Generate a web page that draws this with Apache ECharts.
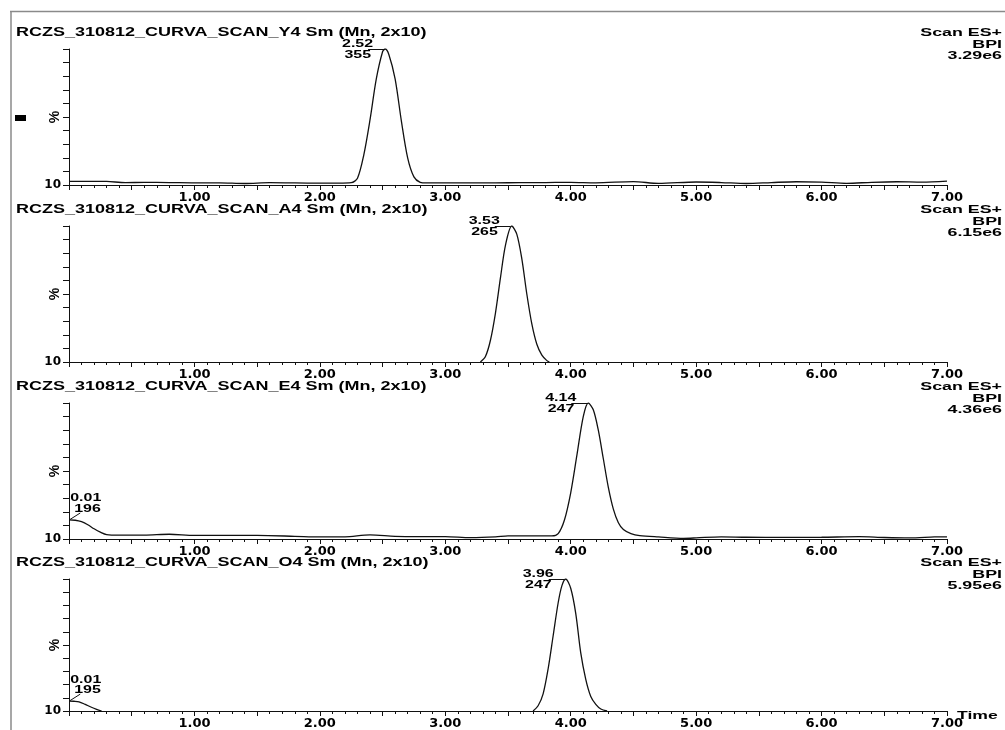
<!DOCTYPE html>
<html><head><meta charset="utf-8">
<script src="https://cdn.jsdelivr.net/npm/echarts@6/dist/echarts.min.js"></script>
<style>html,body{margin:0;padding:0;background:#fff}#c{width:1005px;height:730px}</style>
</head><body><div id="c"></div>
<script>
// ---------- data ----------
const panelTitles = [
  'RCZS_310812_CURVA_SCAN_Y4 Sm (Mn, 2x10)',
  'RCZS_310812_CURVA_SCAN_A4 Sm (Mn, 2x10)',
  'RCZS_310812_CURVA_SCAN_E4 Sm (Mn, 2x10)',
  'RCZS_310812_CURVA_SCAN_O4 Sm (Mn, 2x10)'
];
const scanModes = ['Scan ES+', 'Scan ES+', 'Scan ES+', 'Scan ES+'];
const traceTypes = ['BPI', 'BPI', 'BPI', 'BPI'];
const fullScales = ['3.29e6', '6.15e6', '4.36e6', '5.95e6'];
const peakTimes = [2.52, 3.53, 4.14, 3.96];
const peakMasses = ['355', '265', '247', '247'];
const peakPct = [100, 100, 100, 100];
const startTimes = [null, null, 0.01, 0.01];
const startMasses = [null, null, '196', '195'];
const startPct = [null, null, 14, 7.5];
const xTickValues = [1, 2, 3, 4, 5, 6, 7];
const yBaseLabel = '10';
const yName = '%';
const xName = 'Time';

const y4Time = [0.00,0.15,0.30,0.45,0.60,0.80,1.00,1.20,1.40,1.60,1.80,2.00,2.15,2.25,2.30,2.35,2.40,2.45,2.50,2.52,2.55,2.60,2.65,2.70,2.75,2.80,2.85,3.00,3.20,3.40,3.60,3.80,4.00,4.20,4.50,4.70,5.00,5.20,5.40,5.60,5.80,6.00,6.20,6.40,6.60,6.80,7.00];
const y4Pct  = [2.6,2.7,2.6,1.8,1.9,1.8,1.6,1.6,1.1,1.7,1.5,1.4,1.4,1.7,5,22,48,78,98,100,96,78,47,20,6,2,1.5,1.6,1.5,1.6,1.7,1.8,2.0,1.6,2.5,1.2,2.2,1.8,1.1,1.8,2.4,2.1,1.2,2.0,2.4,2.1,2.8];

const a4Time = [3.28,3.32,3.36,3.40,3.44,3.48,3.53,3.57,3.61,3.65,3.69,3.73,3.77,3.81,3.83];
const a4Pct  = [0,4,16,36,62,86,100,94,76,50,28,13,5,1,0];

const e4Time = [0.00,0.05,0.10,0.15,0.20,0.25,0.30,0.40,0.60,0.80,1.00,1.20,1.50,1.80,2.00,2.20,2.40,2.60,2.80,3.00,3.20,3.40,3.50,3.70,3.85,3.90,3.95,4.00,4.05,4.10,4.14,4.18,4.22,4.26,4.30,4.34,4.38,4.42,4.48,4.55,4.70,4.90,5.00,5.20,5.40,5.70,6.00,6.30,6.50,6.70,6.90,7.00];
const e4Pct  = [14,13.8,12.7,10.5,7.5,5,3.2,2.8,2.8,3.5,2.6,2.6,2.6,2.0,1.5,1.6,3.0,2.0,1.8,1.8,1.0,1.5,2.3,2.3,2.3,4,14,34,62,90,100,95,80,59,38,22,12,7,4,2.5,1.5,0.5,0.8,1.6,1.3,1.2,1.3,1.7,1.1,0.8,1.5,1.6];

const o4Time = [0.00,0.04,0.08,0.13,0.17,0.22,0.26,1.00,3.70,3.74,3.78,3.82,3.86,3.90,3.93,3.96,4.00,4.04,4.08,4.12,4.16,4.20,4.24,4.29];
const o4Pct  = [7.5,7.4,7.0,5.0,3.2,1.3,0,null,0,4,13,32,57,82,95,100,93,74,44,24,11,5,1.5,0];

const traceTimes = [y4Time, a4Time, e4Time, o4Time];
const tracePcts = [y4Pct, a4Pct, e4Pct, o4Pct];

// ---------- layout ----------
const gridTops = [49, 226, 403, 579];
const gridH = 136, gridLeft = 69, gridRight = 58;
const INK = '#111';

const chart = echarts.init(document.getElementById('c'), null, {renderer: 'canvas'});

const grids = [], xAxes = [], yAxes = [], series = [];
gridTops.forEach((top, i) => {
  grids.push({left: gridLeft, right: gridRight, top: top, height: gridH});
  xAxes.push({
    type: 'value', gridIndex: i, min: 0, max: 7, interval: 0.5,
    axisLine: {show: true, onZero: false, lineStyle: {color: INK, width: 1}},
    axisTick: {show: true, length: 5, lineStyle: {color: INK, width: 1}},
    minorTick: {show: true, splitNumber: 5, length: 3, lineStyle: {color: INK, width: 1}},
    splitLine: {show: false},
    axisLabel: {
      show: true, margin: 6, color: '#000', fontFamily: 'DejaVu Sans', fontWeight: 'bold', fontSize: 13,
      showMinLabel: true, showMaxLabel: true, hideOverlap: false,
      formatter: v => xTickValues.some(t => Math.abs(t - v) < 1e-6) ? v.toFixed(2) : ''
    }
  });
  yAxes.push({
    type: 'value', gridIndex: i, min: 0, max: 100, interval: 10,
    axisLine: {show: true, lineStyle: {color: INK, width: 1}},
    axisTick: {show: true, length: 6, lineStyle: {color: INK, width: 1}},
    splitLine: {show: false},
    axisLabel: {
      show: true, margin: 8, color: '#000', fontFamily: 'DejaVu Sans', fontWeight: 'bold', fontSize: 12,
      showMinLabel: true,
      formatter: v => v === 0 ? yBaseLabel : ''
    }
  });
  series.push({
    type: 'line', xAxisIndex: i, yAxisIndex: i, showSymbol: false, smooth: 0.3,
    silent: true, clip: true, connectNulls: false,
    lineStyle: {color: INK, width: 1.3},
    data: traceTimes[i].map((t, k) => [t, tracePcts[i][k] === null ? '-' : tracePcts[i][k]])
  });
});

chart.setOption({
  animation: false,
  backgroundColor: '#fff',
  grid: grids, xAxis: xAxes, yAxis: yAxes, series: series
});

// ---------- texts & annotations ----------
const TF = '"Liberation Sans", Arial, sans-serif';
const g = [];
function txt(x, y, text, size, align, sx, bold, rot) {
  g.push({type: 'text', x: x, y: y, scaleX: sx, rotation: rot || 0, silent: true,
    style: {text: text, fill: '#000', font: (bold ? 'bold ' : '') + size + 'px ' + TF, align: align, verticalAlign: 'middle'}});
}
function seg(x1, y1, x2, y2, color, w) {
  g.push({type: 'line', silent: true, shape: {x1, y1, x2, y2}, style: {stroke: color, lineWidth: w}});
}
// frame
seg(10, 11.5, 1005, 11.5, '#8a8a8a', 1.5);
seg(11, 11, 11, 730, '#8a8a8a', 1.5);
g.push({type: 'rect', silent: true, shape: {x: 15, y: 115, width: 11, height: 6}, style: {fill: '#000'}});

gridTops.forEach((top, i) => {
  txt(16, top - 16, panelTitles[i], 12, 'left', 1.5, true);
  txt(1002, top - 16, scanModes[i], 11, 'right', 1.62, true);
  txt(1002, top - 4.5, traceTypes[i], 11, 'right', 1.62, true);
  txt(1002, top + 7, fullScales[i], 11, 'right', 1.62, true);
  // y-axis name, placed at the middle of the axis
  const m = chart.convertToPixel({gridIndex: i}, [0, 50]);
  g.push({type: 'text', x: m[0] - 14, y: m[1], rotation: Math.PI / 2, silent: true,
    style: {text: yName, fill: '#000', font: 'bold 14px ' + TF, align: 'center', verticalAlign: 'middle'}});

  const p = chart.convertToPixel({gridIndex: i}, [peakTimes[i], peakPct[i]]);
  txt(p[0] - 12, p[1] - 5, peakTimes[i].toFixed(2), 11, 'right', 1.45, true);
  txt(p[0] - 14, p[1] + 5.5, peakMasses[i], 11, 'right', 1.45, true);
  seg(p[0] - 17, p[1] + 0.5, p[0] - 1, p[1] + 0.5, INK, 1);

  if (startTimes[i] !== null) {
    const s = chart.convertToPixel({gridIndex: i}, [startTimes[i], startPct[i]]);
    txt(s[0], s[1] - 21.5, startTimes[i].toFixed(2), 11, 'left', 1.45, true);
    txt(s[0] + 4, s[1] - 11, startMasses[i], 11, 'left', 1.45, true);
    seg(s[0] - 1, s[1], s[0] + 10, s[1] - 7, INK, 1);
  }
});
const lastTop = gridTops[gridTops.length - 1];
txt(957, lastTop + gridH + 1, xName, 11, 'left', 1.6, true);

chart.setOption({graphic: g});
</script>
</body></html>
